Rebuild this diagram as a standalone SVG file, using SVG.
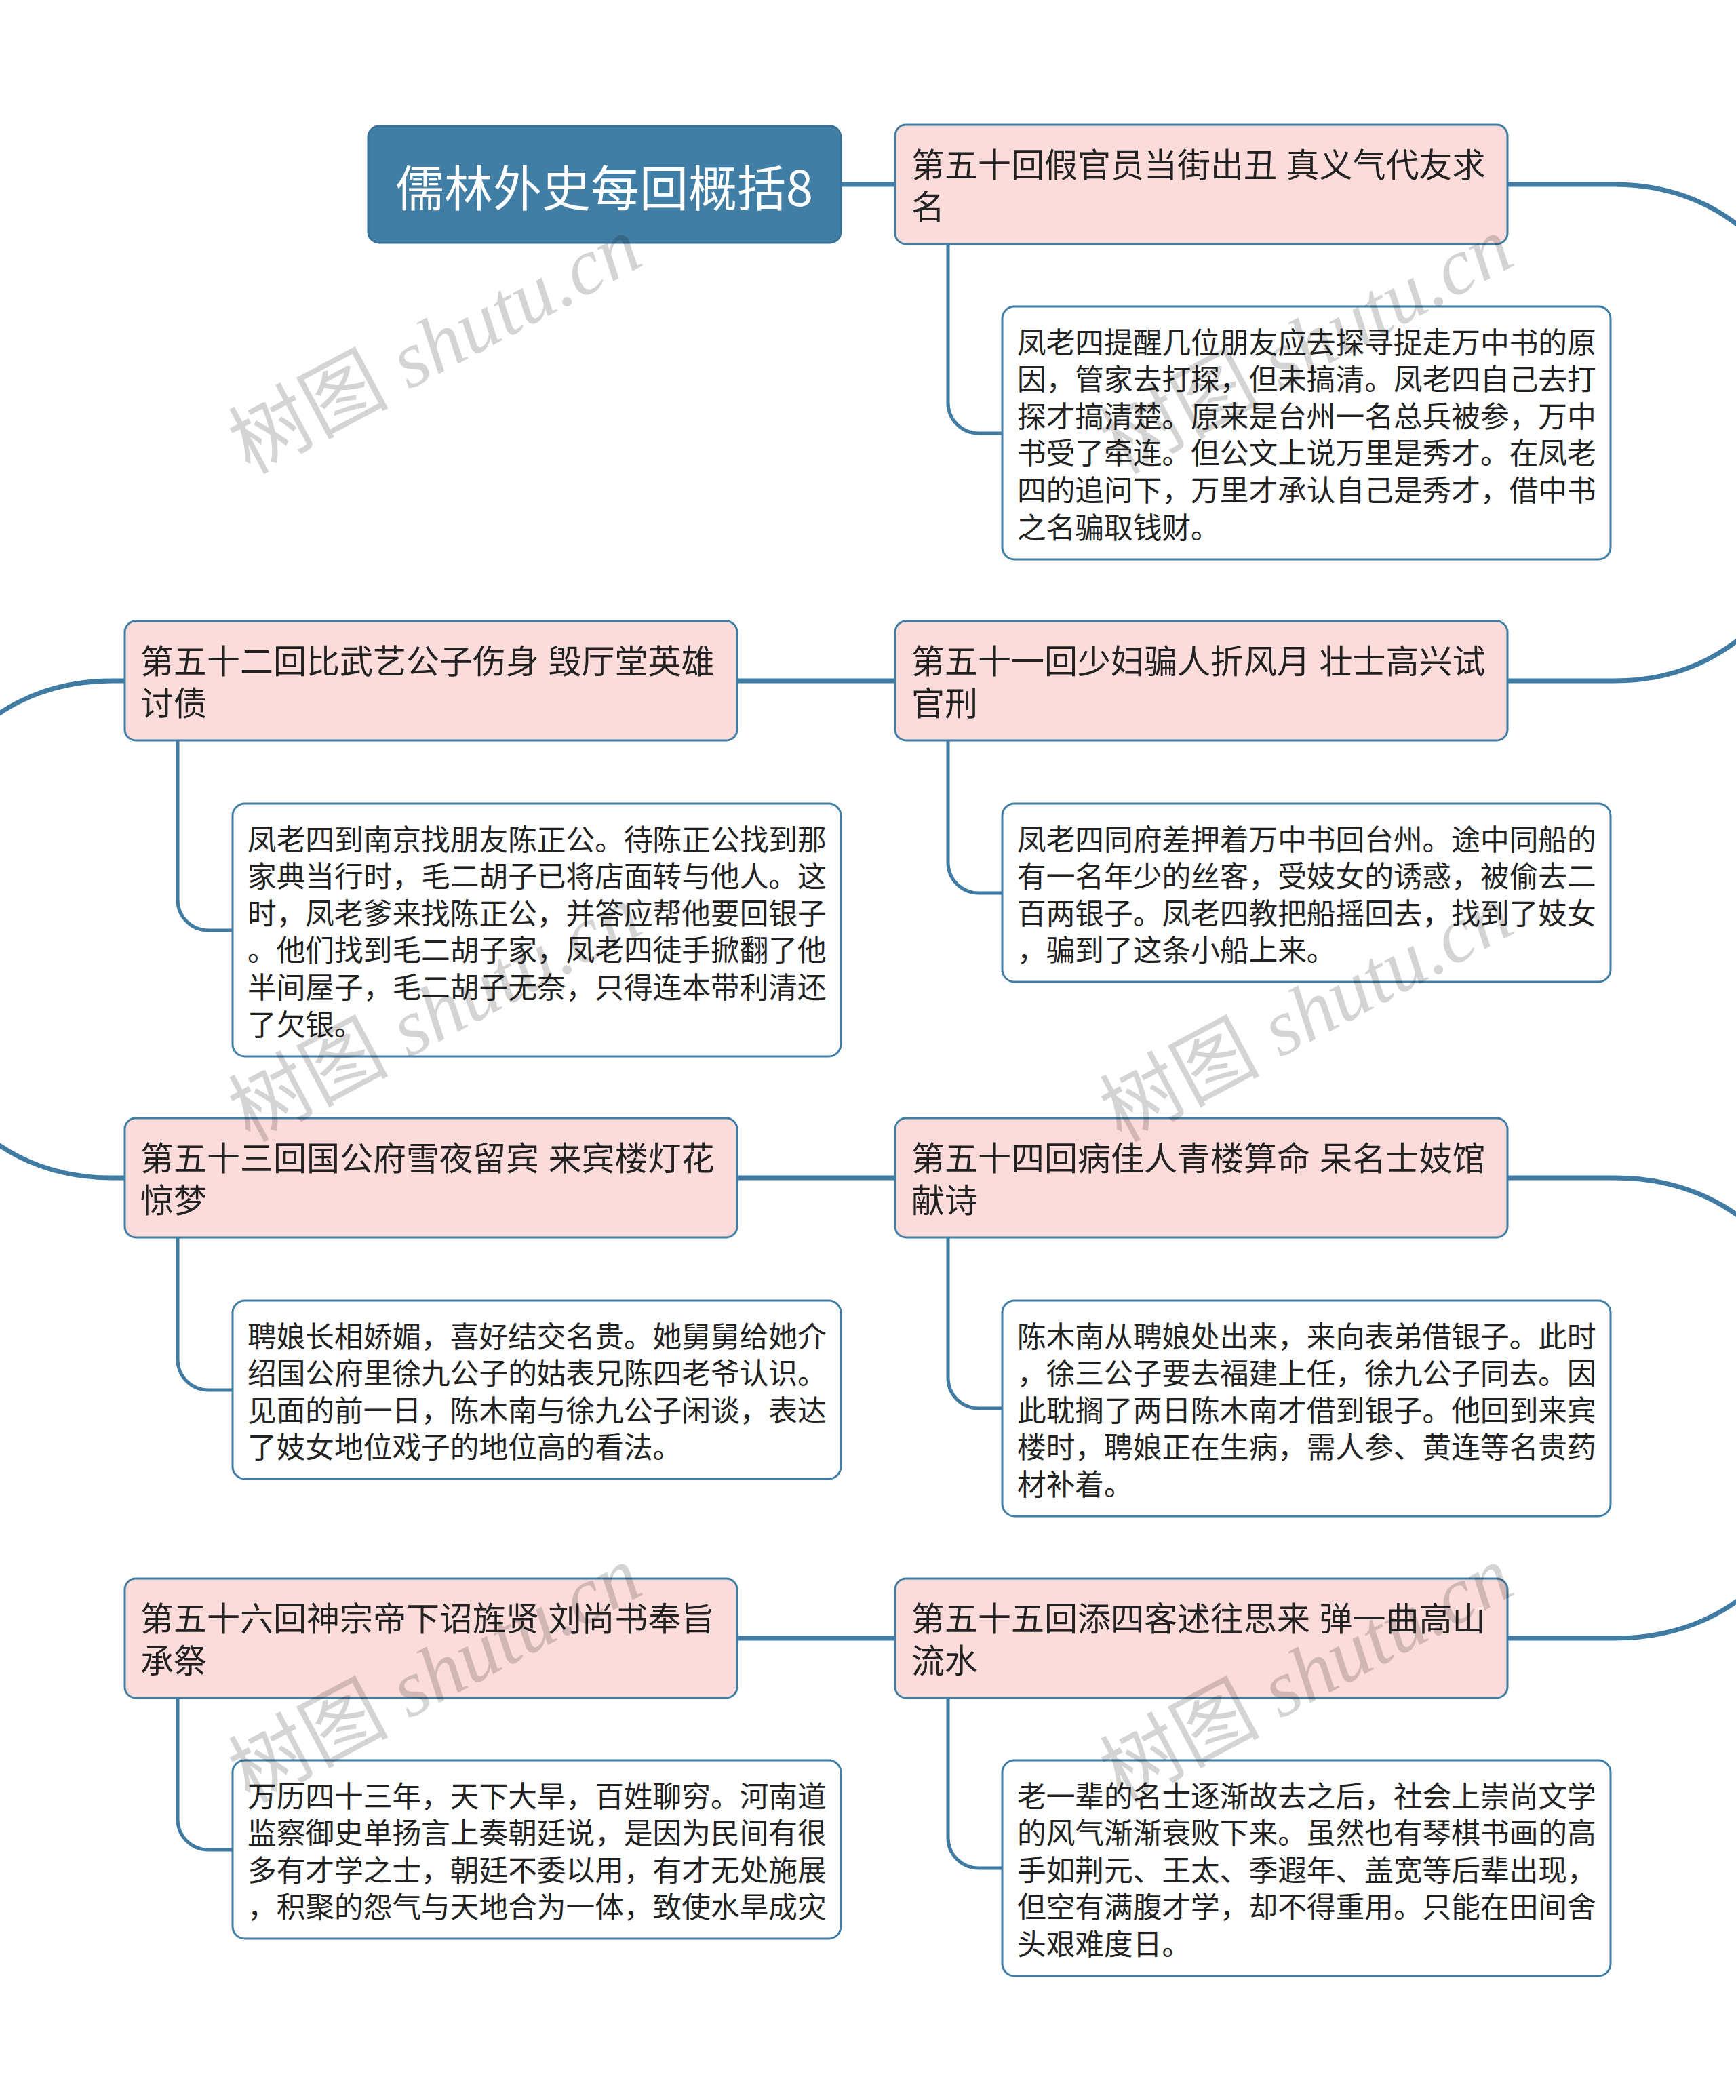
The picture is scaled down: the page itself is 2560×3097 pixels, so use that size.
<svg xmlns="http://www.w3.org/2000/svg" width="2560" height="3097" viewBox="0 0 2560 3097">
<style>
.root{fill:#417ea5;stroke:#3a7399;stroke-width:3}
.rt{fill:#ffffff;font-family:"Noto Sans CJK SC","Noto Sans",sans-serif;font-size:72px;dominant-baseline:central;text-anchor:middle}
.topic{fill:#fbdcdb;stroke:#417ea5;stroke-width:3}
.tt{fill:#222222;font-family:"Liberation Sans","Noto Sans CJK SC",sans-serif;font-size:49px}
.det{fill:#ffffff;stroke:#417ea5;stroke-width:3}
.dt{fill:#222222;font-family:"Liberation Sans","Noto Sans CJK SC",sans-serif;font-size:42.7px}
.main{fill:none;stroke:#3f7ba2;stroke-width:7}
.sub{fill:none;stroke:#3f7ba2;stroke-width:5}
.wm{fill:#000000;fill-opacity:0.17;font-size:118px}
.wmc{font-family:"Noto Sans CJK SC",sans-serif}
.wml{font-family:"Liberation Serif",serif;font-style:italic}
</style>
<rect width="2560" height="3097" fill="#ffffff"/>
<g id="connectors">
<path class="main" d="M1240,272 H1320"/>
<path class="main" d="M2223,272 H2380 C2800,272 2800,1004 2380,1004 H2223"/>
<path class="main" d="M1320,1004 H1087"/>
<path class="main" d="M184,1004 H165 C-255,1004 -255,1737 165,1737 H184"/>
<path class="main" d="M1087,1737 H1320"/>
<path class="main" d="M2223,1737 H2380 C2800,1737 2800,2416 2380,2416 H2223"/>
<path class="main" d="M1320,2416 H1087"/>
<path class="sub" d="M1398,360 V594 A45,45 0 0 0 1443,639 H1478"/>
<path class="sub" d="M1398,1092 V1272 A45,45 0 0 0 1443,1317 H1478"/>
<path class="sub" d="M262,1092 V1327 A45,45 0 0 0 307,1372 H343"/>
<path class="sub" d="M262,1825 V2005 A45,45 0 0 0 307,2050 H343"/>
<path class="sub" d="M1398,1825 V2032 A45,45 0 0 0 1443,2077 H1478"/>
<path class="sub" d="M1398,2504 V2710 A45,45 0 0 0 1443,2755 H1478"/>
<path class="sub" d="M262,2504 V2683 A45,45 0 0 0 307,2728 H343"/>
</g>
<g id="root">
<rect class="root" x="543" y="186" width="697" height="172" rx="16"/>
<text class="rt" x="891" y="272">儒林外史每回概括8</text>
</g>
<g id="n50">
<rect class="topic" x="1320" y="184" width="903" height="176" rx="16"/>
<text class="tt"><tspan x="1344" y="261.4">第五十回假官员当街出丑 真义气代友求</tspan><tspan x="1344" y="323.4">名</tspan></text>
</g>
<g id="d50">
<rect class="det" x="1478" y="452" width="897" height="373" rx="18"/>
<text class="dt"><tspan x="1500" y="520.6">凤老四提醒几位朋友应去探寻捉走万中书的原</tspan><tspan x="1500" y="575.2">因，管家去打探，但未搞清。凤老四自己去打</tspan><tspan x="1500" y="629.8">探才搞清楚。原来是台州一名总兵被参，万中</tspan><tspan x="1500" y="684.4">书受了牵连。但公文上说万里是秀才。在凤老</tspan><tspan x="1500" y="739">四的追问下，万里才承认自己是秀才，借中书</tspan><tspan x="1500" y="793.6">之名骗取钱财。</tspan></text>
</g>
<g id="n51">
<rect class="topic" x="1320" y="916" width="903" height="176" rx="16"/>
<text class="tt"><tspan x="1344" y="993.4">第五十一回少妇骗人折风月 壮士高兴试</tspan><tspan x="1344" y="1055.4">官刑</tspan></text>
</g>
<g id="d51">
<rect class="det" x="1478" y="1185" width="897" height="263" rx="18"/>
<text class="dt"><tspan x="1500" y="1253.6">凤老四同府差押着万中书回台州。途中同船的</tspan><tspan x="1500" y="1308.2">有一名年少的丝客，受妓女的诱惑，被偷去二</tspan><tspan x="1500" y="1362.8">百两银子。凤老四教把船摇回去，找到了妓女</tspan><tspan x="1500" y="1417.4">，骗到了这条小船上来。</tspan></text>
</g>
<g id="n52">
<rect class="topic" x="184" y="916" width="903" height="176" rx="16"/>
<text class="tt"><tspan x="207" y="993.4">第五十二回比武艺公子伤身 毁厅堂英雄</tspan><tspan x="207" y="1055.4">讨债</tspan></text>
</g>
<g id="d52">
<rect class="det" x="343" y="1185" width="897" height="373" rx="18"/>
<text class="dt"><tspan x="365" y="1253.6">凤老四到南京找朋友陈正公。待陈正公找到那</tspan><tspan x="365" y="1308.2">家典当行时，毛二胡子已将店面转与他人。这</tspan><tspan x="365" y="1362.8">时，凤老爹来找陈正公，并答应帮他要回银子</tspan><tspan x="365" y="1417.4">。他们找到毛二胡子家，凤老四徒手掀翻了他</tspan><tspan x="365" y="1472">半间屋子，毛二胡子无奈，只得连本带利清还</tspan><tspan x="365" y="1526.6">了欠银。</tspan></text>
</g>
<g id="n53">
<rect class="topic" x="184" y="1649" width="903" height="176" rx="16"/>
<text class="tt"><tspan x="207" y="1726.4">第五十三回国公府雪夜留宾 来宾楼灯花</tspan><tspan x="207" y="1788.4">惊梦</tspan></text>
</g>
<g id="d53">
<rect class="det" x="343" y="1918" width="897" height="263" rx="18"/>
<text class="dt"><tspan x="365" y="1986.6">聘娘长相娇媚，喜好结交名贵。她舅舅给她介</tspan><tspan x="365" y="2041.2">绍国公府里徐九公子的姑表兄陈四老爷认识。</tspan><tspan x="365" y="2095.8">见面的前一日，陈木南与徐九公子闲谈，表达</tspan><tspan x="365" y="2150.4">了妓女地位戏子的地位高的看法。</tspan></text>
</g>
<g id="n54">
<rect class="topic" x="1320" y="1649" width="903" height="176" rx="16"/>
<text class="tt"><tspan x="1344" y="1726.4">第五十四回病佳人青楼算命 呆名士妓馆</tspan><tspan x="1344" y="1788.4">献诗</tspan></text>
</g>
<g id="d54">
<rect class="det" x="1478" y="1918" width="897" height="318" rx="18"/>
<text class="dt"><tspan x="1500" y="1986.6">陈木南从聘娘处出来，来向表弟借银子。此时</tspan><tspan x="1500" y="2041.2">，徐三公子要去福建上任，徐九公子同去。因</tspan><tspan x="1500" y="2095.8">此耽搁了两日陈木南才借到银子。他回到来宾</tspan><tspan x="1500" y="2150.4">楼时，聘娘正在生病，需人参、黄连等名贵药</tspan><tspan x="1500" y="2205">材补着。</tspan></text>
</g>
<g id="n55">
<rect class="topic" x="1320" y="2328" width="903" height="176" rx="16"/>
<text class="tt"><tspan x="1344" y="2405.4">第五十五回添四客述往思来 弹一曲高山</tspan><tspan x="1344" y="2467.4">流水</tspan></text>
</g>
<g id="d55">
<rect class="det" x="1478" y="2596" width="897" height="318" rx="18"/>
<text class="dt"><tspan x="1500" y="2664.6">老一辈的名士逐渐故去之后，社会上崇尚文学</tspan><tspan x="1500" y="2719.2">的风气渐渐衰败下来。虽然也有琴棋书画的高</tspan><tspan x="1500" y="2773.8">手如荆元、王太、季遐年、盖宽等后辈出现，</tspan><tspan x="1500" y="2828.4">但空有满腹才学，却不得重用。只能在田间舍</tspan><tspan x="1500" y="2883">头艰难度日。</tspan></text>
</g>
<g id="n56">
<rect class="topic" x="184" y="2328" width="903" height="176" rx="16"/>
<text class="tt"><tspan x="207" y="2405.4">第五十六回神宗帝下诏旌贤 刘尚书奉旨</tspan><tspan x="207" y="2467.4">承祭</tspan></text>
</g>
<g id="d56">
<rect class="det" x="343" y="2596" width="897" height="263" rx="18"/>
<text class="dt"><tspan x="365" y="2664.6">万历四十三年，天下大旱，百姓聊穷。河南道</tspan><tspan x="365" y="2719.2">监察御史单扬言上奏朝廷说，是因为民间有很</tspan><tspan x="365" y="2773.8">多有才学之士，朝廷不委以用，有才无处施展</tspan><tspan x="365" y="2828.4">，积聚的怨气与天地合为一体，致使水旱成灾</tspan></text>
</g>
<g id="watermarks">
<text class="wm" transform="translate(368,700) rotate(-28)"><tspan class="wmc">树图</tspan><tspan class="wml"> shutu.cn</tspan></text>
<text class="wm" transform="translate(1653,700) rotate(-28)"><tspan class="wmc">树图</tspan><tspan class="wml"> shutu.cn</tspan></text>
<text class="wm" transform="translate(368,1685) rotate(-28)"><tspan class="wmc">树图</tspan><tspan class="wml"> shutu.cn</tspan></text>
<text class="wm" transform="translate(1653,1685) rotate(-28)"><tspan class="wmc">树图</tspan><tspan class="wml"> shutu.cn</tspan></text>
<text class="wm" transform="translate(368,2660) rotate(-28)"><tspan class="wmc">树图</tspan><tspan class="wml"> shutu.cn</tspan></text>
<text class="wm" transform="translate(1653,2660) rotate(-28)"><tspan class="wmc">树图</tspan><tspan class="wml"> shutu.cn</tspan></text>
</g>
</svg>
